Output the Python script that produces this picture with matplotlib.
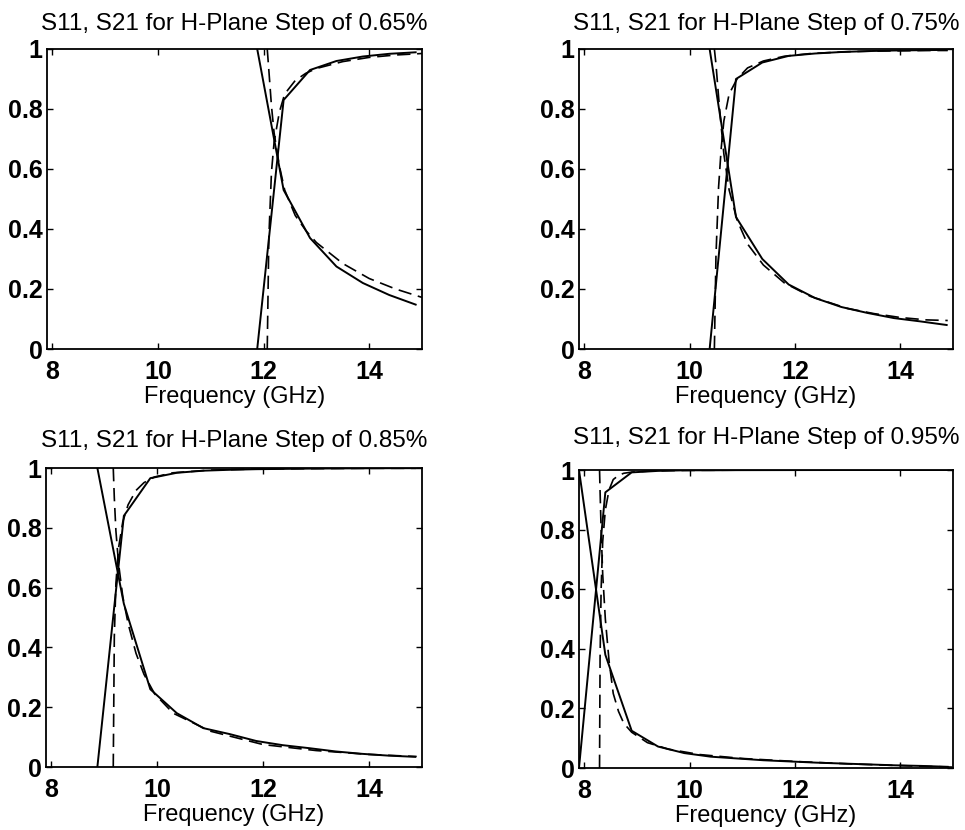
import numpy as np
import matplotlib.pyplot as plt

plt.rcParams['font.family'] = ['Liberation Sans', 'DejaVu Sans']

steps = ['0.65', '0.75', '0.85', '0.95']

# measured (solid) curves
f_meas_065 = [11.88, 12.38, 12.88, 13.38, 13.88, 14.38, 14.88]
s11_meas_065 = [1.0, 0.53, 0.37, 0.275, 0.22, 0.18, 0.148]
s21_meas_065 = [0.0, 0.83, 0.93, 0.96, 0.975, 0.984, 0.989]

f_meas_075 = [10.38, 10.88, 11.38, 11.88, 12.38, 12.88, 13.38, 13.88, 14.38, 14.88]
s11_meas_075 = [1.0, 0.44, 0.30, 0.215, 0.17, 0.14, 0.12, 0.103, 0.092, 0.08]
s21_meas_075 = [0.0, 0.90, 0.955, 0.977, 0.985, 0.99, 0.993, 0.995, 0.996, 0.997]

f_meas_085 = [8.87, 9.37, 9.87, 10.37, 10.87, 11.37, 11.87, 12.37, 12.87, 13.37, 13.87, 14.37, 14.87]
s11_meas_085 = [1.0, 0.546, 0.26, 0.18, 0.13, 0.11, 0.087, 0.073, 0.063, 0.052, 0.044, 0.038, 0.034]
s21_meas_085 = [0.0, 0.84, 0.966, 0.984, 0.991, 0.994, 0.996, 0.997, 0.998, 0.9986, 0.999, 0.9993, 0.9994]

f_meas_095 = [7.9, 8.4, 8.9, 9.4, 9.9, 10.4, 10.9, 11.4, 11.9, 12.4, 12.9, 13.4, 13.9, 14.4, 14.9]
s11_meas_095 = [1.0, 0.38, 0.125, 0.072, 0.05, 0.038, 0.032, 0.026, 0.022, 0.018, 0.015, 0.012, 0.009, 0.007, 0.004]
s21_meas_095 = [0.0, 0.925, 0.992, 0.997, 0.999, 0.999, 0.9995, 0.9996, 0.9997, 0.9998, 0.9999, 0.9999, 1.0, 1.0, 1.0]

# theory (dashed) curves
f_th_065 = [12.07, 12.10, 12.15, 12.2, 12.3, 12.4, 12.6, 12.8, 13.0, 13.5, 14.0, 14.5, 15.0]
s11_th_065 = [1.0, 0.93, 0.81, 0.72, 0.61, 0.53, 0.445, 0.395, 0.355, 0.285, 0.235, 0.2, 0.172]
s21_th_065 = [0.0, 0.37, 0.59, 0.69, 0.79, 0.85, 0.895, 0.919, 0.935, 0.958, 0.972, 0.98, 0.985]

f_th_075 = [10.47, 10.50, 10.55, 10.6, 10.65, 10.75, 10.9, 11.1, 11.4, 11.8, 12.3, 13.0, 13.5, 14.0, 14.5, 14.9]
s11_th_075 = [1.0, 0.95, 0.84, 0.74, 0.65, 0.53, 0.43, 0.35, 0.28, 0.22, 0.175, 0.135, 0.118, 0.105, 0.097, 0.095]
s21_th_075 = [0.0, 0.31, 0.54, 0.67, 0.76, 0.85, 0.90, 0.937, 0.96, 0.976, 0.985, 0.991, 0.993, 0.994, 0.995, 0.995]

f_th_085 = [9.17, 9.19, 9.22, 9.27, 9.35, 9.45, 9.6, 9.75, 9.95, 10.3, 11.0, 12.0, 13.0, 14.0, 14.9]
s11_th_085 = [1.0, 0.9, 0.79, 0.68, 0.57, 0.48, 0.38, 0.31, 0.245, 0.18, 0.12, 0.075, 0.055, 0.042, 0.035]
s21_th_085 = [0.0, 0.436, 0.613, 0.733, 0.82, 0.877, 0.925, 0.951, 0.970, 0.984, 0.993, 0.997, 0.998, 0.999, 0.999]

f_th_095 = [8.29, 8.3, 8.32, 8.35, 8.4, 8.47, 8.55, 8.65, 8.75, 8.9, 9.2, 9.6, 10.2, 11.0, 12.0, 13.0, 14.0, 15.0]
s11_th_095 = [1.0, 0.93, 0.8, 0.65, 0.5, 0.36, 0.25, 0.19, 0.15, 0.12, 0.085, 0.063, 0.045, 0.032, 0.022, 0.014, 0.008, 0.003]
s21_th_095 = [0.0, 0.368, 0.6, 0.76, 0.866, 0.933, 0.968, 0.982, 0.989, 0.993, 0.996, 0.998, 0.999, 0.9995, 1.0, 1.0, 1.0, 1.0]

meas = [(f_meas_065, s11_meas_065, s21_meas_065),
        (f_meas_075, s11_meas_075, s21_meas_075),
        (f_meas_085, s11_meas_085, s21_meas_085),
        (f_meas_095, s11_meas_095, s21_meas_095)]
theory = [(f_th_065, s11_th_065, s21_th_065),
          (f_th_075, s11_th_075, s21_th_075),
          (f_th_085, s11_th_085, s21_th_085),
          (f_th_095, s11_th_095, s21_th_095)]

fig = plt.figure(figsize=(9.65, 8.3), dpi=100)

# axes boxes in pixels: left, top, right, bottom
boxes = [(47, 49, 422, 349), (579, 49, 953, 349),
         (46, 468, 422, 767), (579, 470, 953, 768)]
title_pads = [14, 14, 15, 19]
W, H = 965, 830

for i in range(4):
    l, t, r, b = boxes[i]
    ax = fig.add_axes([l / W, 1 - b / H, (r - l) / W, (b - t) / H])
    f, s11, s21 = theory[i]
    ax.plot(f, s11, 'k--', lw=1.2, dashes=(8, 4))
    ax.plot(f, s21, 'k--', lw=1.2, dashes=(8, 4))
    f, s11, s21 = meas[i]
    ax.plot(f, s11, 'k-', lw=1.4)
    ax.plot(f, s21, 'k-', lw=1.4)

    ax.set_xlim(7.9, 15.0)
    ax.set_ylim(0, 1)
    ax.set_xticks([8, 10, 12, 14])
    ax.set_yticks([0, 0.2, 0.4, 0.6, 0.8, 1])
    ax.set_yticklabels(['0', '0.2', '0.4', '0.6', '0.8', '1'])
    ax.tick_params(direction='in', top=True, right=True, length=4, width=1,
                   labelsize=18, pad=3)
    ax.tick_params(axis='x', pad=8)
    for lab in ax.get_xticklabels() + ax.get_yticklabels():
        lab.set_fontweight('bold')
    for sp in ax.spines.values():
        sp.set_linewidth(1.3)
    ax.set_title('S11, S21 for H-Plane Step of ' + steps[i] + '%',
                 fontsize=17.5, pad=title_pads[i])
    ax.set_xlabel('Frequency (GHz)', fontsize=17, labelpad=1)

fig.savefig('out.png', dpi=100)
